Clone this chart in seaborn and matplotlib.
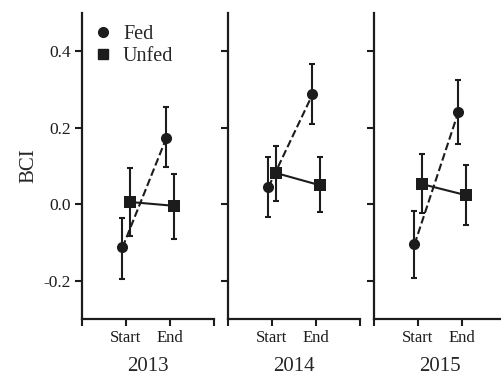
import numpy as np
import pandas as pd
import matplotlib
matplotlib.use("Agg")
import matplotlib.pyplot as plt
from matplotlib.lines import Line2D
import seaborn as sns

# Body condition index (mean with lower/upper error limits) by year and phase
years = ["2013", "2014", "2015"]
phases = ["Start", "End"]

fed_mean = [[-0.113, 0.174], [0.045, 0.287], [-0.105, 0.242]]
fed_low = [[-0.195, 0.097], [-0.034, 0.210], [-0.192, 0.158]]
fed_high = [[-0.037, 0.253], [0.124, 0.366], [-0.018, 0.326]]

unfed_mean = [[0.006, -0.004], [0.082, 0.050], [0.053, 0.024]]
unfed_low = [[-0.082, -0.090], [0.008, -0.020], [-0.024, -0.053]]
unfed_high = [[0.095, 0.080], [0.153, 0.124], [0.132, 0.103]]

yticks = [-0.2, 0.0, 0.2, 0.4]
ytick_labels = ["-0.2", "0.0", "0.2", "0.4"]

rows = []
for yi, yr in enumerate(years):
    for pi, ph in enumerate(phases):
        rows.append(dict(year=yr, phase=ph, group="Fed", pos=pi + 1 - 0.08,
                         bci=fed_mean[yi][pi], lo=fed_low[yi][pi], hi=fed_high[yi][pi]))
        rows.append(dict(year=yr, phase=ph, group="Unfed", pos=pi + 1 + 0.08,
                         bci=unfed_mean[yi][pi], lo=unfed_low[yi][pi], hi=unfed_high[yi][pi]))
df = pd.DataFrame(rows)

sns.set_theme(style="ticks")
plt.rcParams["font.family"] = ["Liberation Serif", "DejaVu Serif"]

ink = "#1c1c1c"
W, H = 502, 376
fig = plt.figure(figsize=(W / 100, H / 100), dpi=100)

lefts = [82, 228, 374]
panel_w = 132
top_px, bottom_px = 13, 319

for i, yr in enumerate(years):
    ax = fig.add_axes([lefts[i] / W, 1 - bottom_px / H, panel_w / W, (bottom_px - top_px) / H])
    d = df[df.year == yr]

    for grp in ("Fed", "Unfed"):
        g = d[d.group == grp]
        ax.errorbar(g.pos, g.bci, yerr=[g.bci - g.lo, g.hi - g.bci], fmt="none",
                    ecolor=ink, elinewidth=1.5, capsize=2.5, capthick=1.5, zorder=2)

    sns.lineplot(data=d[d.group == "Fed"], x="pos", y="bci", ax=ax, color=ink,
                 linewidth=1.5, linestyle="--", dashes=(3.5, 2.5), marker="o",
                 markersize=8, markeredgewidth=0, legend=False, zorder=3,
                 estimator=None, sort=False)
    sns.lineplot(data=d[d.group == "Unfed"], x="pos", y="bci", ax=ax, color=ink,
                 linewidth=1.5, marker="s", markersize=8, markeredgewidth=0,
                 legend=False, zorder=4, estimator=None, sort=False)

    ax.set_xlim(0, 3)
    ax.set_ylim(-0.3, 0.5)
    ax.set_xticks([0, 1, 2, 3])
    ax.set_xticklabels(["", "Start", "End", ""], fontsize=12)
    ax.set_yticks(yticks)
    if i == 0:
        ax.set_yticklabels(ytick_labels, fontsize=12.5)
        ax.set_ylabel("BCI", fontsize=15, labelpad=4)
    else:
        ax.set_yticklabels([])
        ax.set_ylabel("")
    ax.set_xlabel(yr, fontsize=15, labelpad=7.5)
    ax.tick_params(axis="both", direction="out", length=5, width=1.5, color=ink,
                   labelcolor=ink, pad=3)
    for side in ("left", "bottom"):
        ax.spines[side].set_linewidth(1.6)
        ax.spines[side].set_color(ink)
    sns.despine(ax=ax)
    ax.patch.set_alpha(0)

    if i == 0:
        handles = [Line2D([], [], linestyle="none", marker="o", markersize=7, color=ink),
                   Line2D([], [], linestyle="none", marker="s", markersize=7, color=ink)]
        ax.legend(handles, ["Fed", "Unfed"], loc="upper left", frameon=False,
                  fontsize=14.5, handlelength=1.0, handletextpad=0.5, labelspacing=0.15,
                  borderaxespad=0.2, bbox_to_anchor=(-0.01, 1.0))

fig.savefig("out.png", dpi=100)
